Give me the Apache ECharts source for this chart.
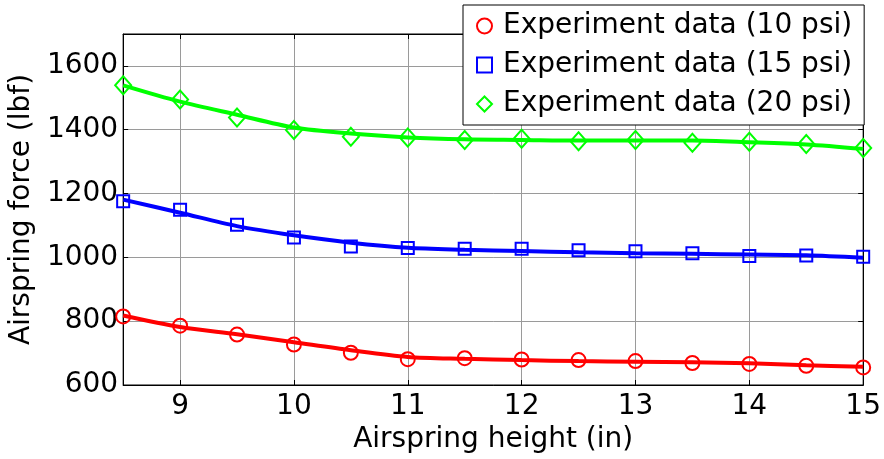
<!DOCTYPE html>
<html>
<head>
<meta charset="utf-8">
<script src="https://cdn.jsdelivr.net/npm/echarts@6/dist/echarts.min.js"></script>
<style>
  html, body { margin: 0; padding: 0; background: #fff; }
  #main { width: 884px; height: 459px; }
</style>
</head>
<body>
<div id="main"></div>
<script>
// airspring height (in)
var heights = [8.5, 9, 9.5, 10, 10.5, 11, 11.5, 12, 12.5, 13, 13.5, 14, 14.5, 15];

// experiment data (markers)
var exp10 = [815, 786, 758, 727, 701, 681, 684, 680, 678, 675, 669, 666, 660, 655];
var exp15 = [1176, 1149, 1102, 1062, 1034, 1029, 1027, 1027, 1022, 1019, 1013, 1004, 1006, 1002];
var exp20 = [1539, 1495, 1438, 1399, 1378, 1376, 1368, 1372, 1364, 1368, 1359, 1362, 1355, 1343];

// model curves (lines)
var fit10 = [818, 782, 759, 734, 709, 688, 682, 678, 675, 673, 671, 668, 662, 657];
var fit15 = [1181, 1140, 1098, 1069, 1046, 1030, 1024, 1020, 1016, 1013, 1011, 1009, 1007, 999];
var fit20 = [1539, 1488, 1447, 1407, 1388, 1376, 1370, 1368, 1366, 1366, 1366, 1361, 1354, 1340];

var legendNames = ['Experiment data (10 psi)', 'Experiment data (15 psi)', 'Experiment data (20 psi)'];
var xTitle = 'Airspring height (in)';
var yTitle = 'Airspring force (lbf)';

function pairs(xs, ys) {
  var out = [];
  for (var i = 0; i < xs.length; i++) out.push([xs[i], ys[i]]);
  return out;
}

var FONT = 'DejaVu Sans';
var RED = '#ff0000', BLUE = '#0000ff', GREEN = '#00ff00';

var myChart = echarts.init(document.getElementById('main'));

function lineSeries(name, data, color) {
  return {
    name: name,
    type: 'line',
    data: pairs(heights, data),
    showSymbol: false,
    smooth: 0.3,
    lineStyle: { color: color, width: 4 },
    itemStyle: { color: color },
    z: 2,
    silent: true
  };
}

function markerSeries(name, data, color, symbol, size) {
  return {
    name: name,
    type: 'scatter',
    data: pairs(heights, data),
    symbol: symbol,
    symbolSize: size,
    itemStyle: { color: 'transparent', borderColor: color, borderWidth: 2, opacity: 1 },
    z: 3
  };
}

var option = {
  backgroundColor: '#fff',
  animation: false,
  textStyle: { fontFamily: FONT },
  grid: { left: 123, right: 20, top: 34, bottom: 74, show: true, borderColor: '#000', borderWidth: 1, containLabel: false },
  legend: {
    orient: 'vertical',
    left: 463,
    top: 5,
    padding: [7, 12, 7, 13],
    itemGap: 11,
    itemWidth: 15,
    itemHeight: 15,
    backgroundColor: '#fff',
    borderColor: '#000',
    borderWidth: 1,
    textStyle: { fontFamily: FONT, fontSize: 28, color: '#000', padding: [0, 0, 0, 6] },
    data: [
      { name: legendNames[0], icon: 'circle', itemStyle: { color: 'transparent', borderColor: RED, borderWidth: 2, opacity: 1 } },
      { name: legendNames[1], icon: 'rect', itemStyle: { color: 'transparent', borderColor: BLUE, borderWidth: 2, opacity: 1 } },
      { name: legendNames[2], icon: 'diamond', itemStyle: { color: 'transparent', borderColor: GREEN, borderWidth: 2, opacity: 1 } }
    ]
  },
  xAxis: [{
    type: 'value',
    position: 'bottom',
    min: 8.5,
    max: 15,
    splitNumber: 6,
    name: xTitle,
    nameLocation: 'middle',
    nameGap: 38,
    nameTextStyle: { fontFamily: FONT, fontSize: 28, color: '#000' },
    axisLine: { lineStyle: { color: '#000', width: 1 } },
    axisTick: { inside: true, length: 5, lineStyle: { color: '#000' } },
    axisLabel: {
      fontFamily: FONT, fontSize: 28, color: '#000', margin: 8,
      formatter: function (v) { return Math.abs(v - Math.round(v)) < 1e-6 ? String(Math.round(v)) : ''; }
    },
    splitLine: { show: true, lineStyle: { color: '#9a9a9a', width: 1 } }
  }, {
    type: 'value',
    position: 'top',
    min: 8.5,
    max: 15,
    splitNumber: 6,
    axisLine: { lineStyle: { color: '#000', width: 1 } },
    axisTick: { inside: true, length: 5, lineStyle: { color: '#000' } },
    axisLabel: { show: false },
    splitLine: { show: false }
  }],
  yAxis: [{
    type: 'value',
    position: 'left',
    min: 600,
    max: 1700,
    interval: 200,
    name: yTitle,
    nameLocation: 'middle',
    nameGap: 75,
    nameTextStyle: { fontFamily: FONT, fontSize: 28, color: '#000' },
    axisLine: { show: true, lineStyle: { color: '#000', width: 1 } },
    axisTick: { show: true, inside: true, length: 5, lineStyle: { color: '#000' } },
    axisLabel: {
      fontFamily: FONT, fontSize: 28, color: '#000', margin: 5,
      formatter: function (v) { return v > 1600 ? '' : String(v); }
    },
    splitLine: { show: true, lineStyle: { color: '#9a9a9a', width: 1 } }
  }, {
    type: 'value',
    position: 'right',
    min: 600,
    max: 1700,
    interval: 200,
    axisLine: { show: true, lineStyle: { color: '#000', width: 1 } },
    axisTick: { show: true, inside: true, length: 5, lineStyle: { color: '#000' } },
    axisLabel: { show: false },
    splitLine: { show: false }
  }],
  series: [
    lineSeries('model 10 psi', fit10, RED),
    lineSeries('model 15 psi', fit15, BLUE),
    lineSeries('model 20 psi', fit20, GREEN),
    markerSeries(legendNames[0], exp10, RED, 'circle', 14),
    markerSeries(legendNames[1], exp15, BLUE, 'rect', 12),
    markerSeries(legendNames[2], exp20, GREEN, 'diamond', [16, 18])
  ]
};

myChart.setOption(option);

window.onresize = function () {
  myChart.resize();
};
</script>
</body>
</html>
